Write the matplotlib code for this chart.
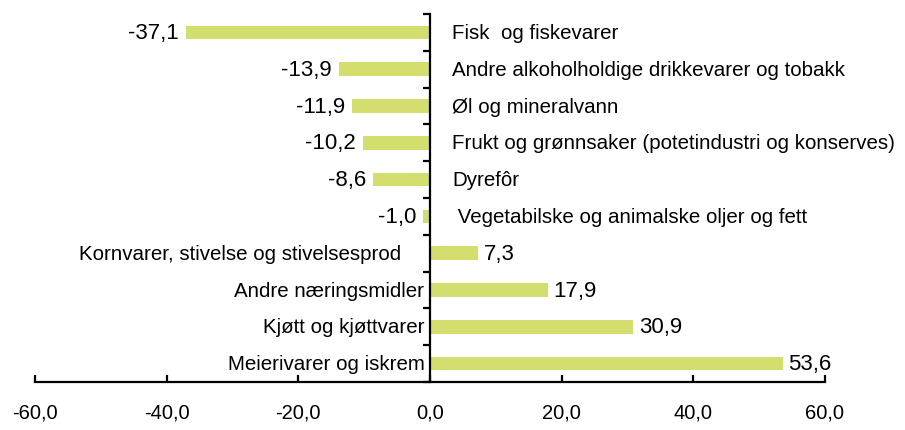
import matplotlib
matplotlib.use("Agg")
import matplotlib.pyplot as plt
import numpy as np

categories = ["Fisk  og fiskevarer",
              "Andre alkoholholdige drikkevarer og tobakk",
              "Øl og mineralvann",
              "Frukt og grønnsaker (potetindustri og konserves)",
              "Dyrefôr",
              " Vegetabilske og animalske oljer og fett",
              "Kornvarer, stivelse og stivelsesprod    ",
              "Andre næringsmidler",
              "Kjøtt og kjøttvarer",
              "Meierivarer og iskrem"]
values = [-37.1, -13.9, -11.9, -10.2, -8.6, -1.0, 7.3, 17.9, 30.9, 53.6]
xticks = [-60, -40, -20, 0, 20, 40, 60]

plt.rcParams['font.family'] = ['Liberation Sans', 'DejaVu Sans']
fig = plt.figure(figsize=(9.05, 4.31), dpi=100)
ax = fig.add_axes([0.0387, 0.1114, 0.8729, 0.8536])

n = len(categories)
ypos = np.arange(n)[::-1]
color = '#D4DE6E'
ax.barh(ypos, values, height=0.37, color=color)
ax.set_xlim(-60, 60)
ax.set_ylim(-0.5, n - 0.5)

fs_cat = 14.8
fs_val = 16
for y, v, c in zip(ypos, values, categories):
    lab = f"{v:.1f}".replace('.', ',')
    if v < 0:
        ax.annotate(lab, (v, y), xytext=(-5, 0), textcoords='offset points',
                    ha='right', va='center', fontsize=fs_val)
        ax.annotate(c, (0, y), xytext=(16, 0), textcoords='offset points',
                    ha='left', va='center', fontsize=fs_cat)
    else:
        ax.annotate(lab, (v, y), xytext=(4, 0), textcoords='offset points',
                    ha='left', va='center', fontsize=fs_val)
        ax.annotate(c, (0, y), xytext=(-4, 0), textcoords='offset points',
                    ha='right', va='center', fontsize=fs_cat)

for s in ['top', 'right']:
    ax.spines[s].set_visible(False)
ax.spines['left'].set_position(('data', 0))
ax.spines['left'].set_linewidth(1.6)
ax.spines['bottom'].set_linewidth(1.6)

ax.set_xticks(xticks)
ax.set_xticklabels([f"{t:.1f}".replace('.', ',') for t in xticks], fontsize=14.5)
ax.tick_params(axis='x', direction='in', length=5, width=1.6, pad=15)
ax.set_yticks(np.arange(n + 1) - 0.5)
ax.set_yticklabels([])
ax.tick_params(axis='y', direction='out', length=5, width=1.6)

fig.savefig("out.png", dpi=100)
